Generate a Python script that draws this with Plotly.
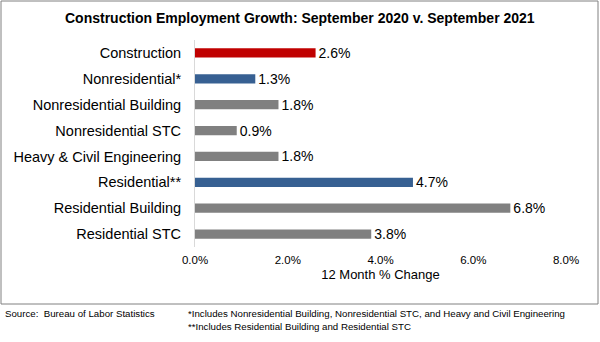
import plotly.graph_objects as go

categories = ["Construction", "Nonresidential*", "Nonresidential Building", "Nonresidential STC",
              "Heavy & Civil Engineering", "Residential**", "Residential Building", "Residential STC"]
values = [2.6, 1.3, 1.8, 0.9, 1.8, 4.7, 6.8, 3.8]
colors = ["#C00000", "#376092", "#808080", "#808080", "#808080", "#376092", "#808080", "#808080"]
x_ticks = [0, 2, 4, 6, 8]

W, H = 600, 342
L, R, T, B = 195, 34, 40, 95
pw, ph = W - L - R, H - T - B

def px(x):
    return (x - L) / pw

def py(y):
    return (H - B - y) / ph

FONT = "Liberation Sans, Arial, sans-serif"

fig = go.Figure(go.Bar(
    x=values, y=categories, orientation="h",
    marker=dict(color=colors, line=dict(width=0)),
    width=0.36,
    text=[f"{v:.1f}%" for v in values], textposition="outside",
    constraintext="none",
    textfont=dict(size=14, color="#000000", family=FONT),
    cliponaxis=False,
))

fig.update_layout(
    width=W, height=H,
    margin=dict(l=L, r=R, t=T, b=B),
    paper_bgcolor="white", plot_bgcolor="white",
    font=dict(family=FONT, color="#000000"),
    showlegend=False,
    xaxis=dict(range=[0, 8], tickvals=x_ticks, ticktext=[f"{t:.1f}%" for t in x_ticks],
               showgrid=False, zeroline=False, showline=False, ticks="",
               tickfont=dict(size=11.5, color="#000000"), ticklabelstandoff=4,
               title=dict(text="12 Month % Change", font=dict(size=13), standoff=5)),
    yaxis=dict(autorange="reversed", showgrid=False, zeroline=False,
               showline=True, linecolor="#D9D9D9", linewidth=1, ticks="",
               tickfont=dict(size=14.5, color="#000000"), ticklabelstandoff=10),
    shapes=[dict(type="rect", xref="paper", yref="paper",
                 x0=px(1), x1=px(598), y0=py(304), y1=py(1),
                 line=dict(color="#808080", width=1), fillcolor="rgba(0,0,0,0)")],
    annotations=[
        dict(text="<b>Construction Employment Growth: September 2020 v. September 2021</b>",
             xref="paper", yref="paper", x=px(300), y=py(18), xanchor="center", yanchor="middle",
             showarrow=False, font=dict(size=14)),
        dict(text="Source:  Bureau of Labor Statistics", xref="paper", yref="paper",
             x=px(3), y=py(313), xanchor="left", yanchor="middle", showarrow=False, font=dict(size=9.7)),
        dict(text="*Includes Nonresidential Building, Nonresidential STC, and Heavy and Civil Engineering",
             xref="paper", yref="paper", x=px(186), y=py(313), xanchor="left", yanchor="middle",
             showarrow=False, font=dict(size=9.7)),
        dict(text="**Includes Residential Building and Residential STC",
             xref="paper", yref="paper", x=px(186), y=py(326), xanchor="left", yanchor="middle",
             showarrow=False, font=dict(size=9.7)),
    ],
)

fig.write_html("out.html")
